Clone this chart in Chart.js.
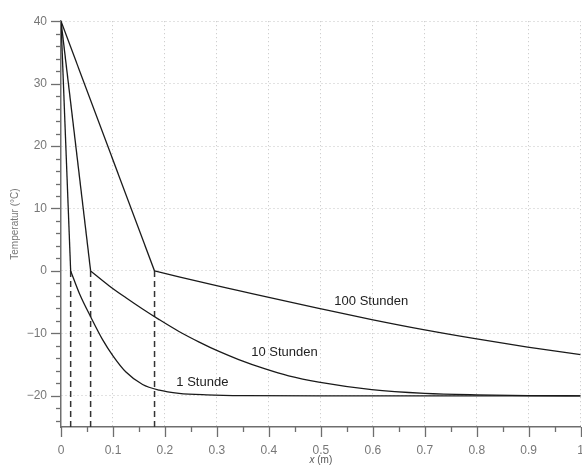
<!DOCTYPE html>
<html>
<head>
<meta charset="utf-8">
<script src="https://cdn.jsdelivr.net/npm/chart.js@4"></script>
<style>
  html, body { margin: 0; padding: 0; background: #fff; overflow: hidden; }
  #wrap { width: 582px; height: 468px; overflow: hidden; }
</style>
</head>
<body>
<div id="wrap"><canvas id="chart" width="600" height="468"></canvas></div>
<script>
// tick labels
const xTicks = [0, 0.1, 0.2, 0.3, 0.4, 0.5, 0.6, 0.7, 0.8, 0.9, 1];
const yTicks = [-20, -10, 0, 10, 20, 30, 40];

// 1 Stunde
const x1h = [0, 0.0186, 0.0358, 0.058, 0.08, 0.1, 0.125, 0.157, 0.189, 0.227, 0.28, 0.35, 0.5, 1.0];
const t1h = [40, 0, -3.7, -7.5, -11.0, -13.6, -16.2, -18.2, -19.1, -19.6, -19.85, -19.97, -20, -20];

// 10 Stunden
const x10h = [0, 0.057, 0.093, 0.125, 0.157, 0.189, 0.227, 0.266, 0.304, 0.342, 0.393, 0.438, 0.496, 0.598, 0.7, 0.8, 0.9, 1.0];
const t10h = [40, 0, -2.4, -4.3, -6.1, -7.8, -9.7, -11.4, -12.9, -14.2, -15.7, -16.8, -17.8, -19.0, -19.6, -19.85, -19.97, -20];

// 100 Stunden
const x100h = [0, 0.18, 0.227, 0.291, 0.342, 0.4, 0.496, 0.598, 0.7, 0.8, 0.898, 1.0];
const t100h = [40, 0, -0.95, -2.2, -3.15, -4.25, -6.0, -7.8, -9.45, -10.9, -12.2, -13.4];

// Eisfront (dashed verticals)
const frontX = [0.0186, 0.057, 0.18];

// curve labels
const labelText = ['1 Stunde', '10 Stunden', '100 Stunden'];
const labelX = [0.272, 0.43, 0.597];
const labelY = [-17.8, -13.1, -4.9];

const FONT = '"Liberation Sans", Arial, sans-serif';

function pts(xs, ts, from, to) {
  const out = [];
  for (let i = from; i < to; i++) out.push({ x: xs[i], y: ts[i] });
  return out;
}

const datasets = [];
[[x1h, t1h], [x10h, t10h], [x100h, t100h]].forEach(function (c) {
  // straight part above freezing
  datasets.push({
    data: pts(c[0], c[1], 0, 2),
    borderColor: '#1a1a1a', borderWidth: 1.3, pointRadius: 0, tension: 0
  });
  // frozen part
  datasets.push({
    data: pts(c[0], c[1], 1, c[0].length),
    borderColor: '#1a1a1a', borderWidth: 1.3, pointRadius: 0,
    cubicInterpolationMode: 'monotone'
  });
});
frontX.forEach(function (f) {
  datasets.push({
    data: [{ x: f, y: 0 }, { x: f, y: -25 }],
    borderColor: '#333', borderWidth: 1.5, borderDash: [6, 4], pointRadius: 0
  });
});

const extras = {
  id: 'extras',
  afterDraw(chart) {
    const ctx = chart.ctx;
    const xs = chart.scales.x, ys = chart.scales.y;
    const area = chart.chartArea;
    ctx.save();
    ctx.strokeStyle = '#6e6e6e';
    ctx.lineWidth = 1.3;
    // y ticks, minor every 2
    for (let v = -24; v <= 40; v += 2) {
      const py = Math.round(ys.getPixelForValue(v)) + 0.5;
      const len = v % 10 === 0 ? 10 : 5;
      ctx.beginPath();
      ctx.moveTo(area.left, py);
      ctx.lineTo(area.left - len, py);
      ctx.stroke();
    }
    // x ticks, minor every 0.05
    for (let i = 0; i <= 20; i++) {
      const px = Math.round(xs.getPixelForValue(i * 0.05)) + 0.5;
      const len = i % 2 === 0 ? 10 : 5;
      ctx.beginPath();
      ctx.moveTo(px, area.bottom);
      ctx.lineTo(px, area.bottom + len);
      ctx.stroke();
    }
    // x axis title with italic x
    const cx = (area.left + area.right) / 2;
    const ty = 460;
    ctx.fillStyle = '#555';
    ctx.textBaseline = 'middle';
    ctx.font = 'italic 10px ' + FONT;
    const w1 = ctx.measureText('x').width;
    ctx.font = '10px ' + FONT;
    const w2 = ctx.measureText(' (m)').width;
    const sx = cx - (w1 + w2) / 2;
    ctx.textAlign = 'left';
    ctx.font = 'italic 10px ' + FONT;
    ctx.fillText('x', sx, ty);
    ctx.font = '10px ' + FONT;
    ctx.fillText(' (m)', sx + w1, ty);
    // curve labels
    ctx.fillStyle = '#222';
    ctx.font = '13px ' + FONT;
    ctx.textAlign = 'center';
    for (let i = 0; i < labelText.length; i++) {
      ctx.fillText(labelText[i], xs.getPixelForValue(labelX[i]), ys.getPixelForValue(labelY[i]));
    }
    ctx.restore();
  }
};

new Chart(document.getElementById('chart').getContext('2d'), {
  type: 'line',
  data: { datasets: datasets },
  options: {
    responsive: false,
    devicePixelRatio: 1,
    animation: false,
    events: [],
    layout: { padding: { top: 16, right: 17, left: 0, bottom: 0 } },
    plugins: { legend: { display: false }, tooltip: { enabled: false } },
    scales: {
      x: {
        type: 'linear',
        min: 0,
        max: 1,
        afterBuildTicks: function (s) { s.ticks = xTicks.map(v => ({ value: v })); },
        afterFit: function (s) { s.height = 41; },
        grid: {
          color: c => (c.tick && c.tick.value === 0) ? 'rgba(0,0,0,0)' : '#c4c4c4',
          lineWidth: 1,
          drawTicks: false
        },
        border: { display: true, color: '#6e6e6e', width: 1.5, dash: [1, 3] },
        ticks: {
          padding: 16,
          color: '#777',
          font: { family: FONT, size: 12 },
          maxRotation: 0,
          autoSkip: false,
          callback: v => (v === 0 || v === 1) ? String(v) : v.toFixed(1)
        }
      },
      y: {
        type: 'linear',
        min: -25,
        max: 40,
        afterBuildTicks: function (s) { s.ticks = yTicks.map(v => ({ value: v })); },
        afterFit: function (s) { s.width = 61; },
        grid: {
          color: '#c4c4c4',
          lineWidth: 1,
          drawTicks: false
        },
        border: { display: true, color: '#6e6e6e', width: 1.5, dash: [1, 3] },
        ticks: {
          padding: 14,
          color: '#777',
          font: { family: FONT, size: 12 },
          callback: v => v < 0 ? '\u2212' + Math.abs(v) : String(v)
        },
        title: {
          display: true,
          text: 'Temperatur (°C)',
          color: '#777',
          font: { family: FONT, size: 10 },
          padding: { top: 9, bottom: 0 }
        }
      }
    }
  },
  plugins: [extras]
});
</script>
</body>
</html>
